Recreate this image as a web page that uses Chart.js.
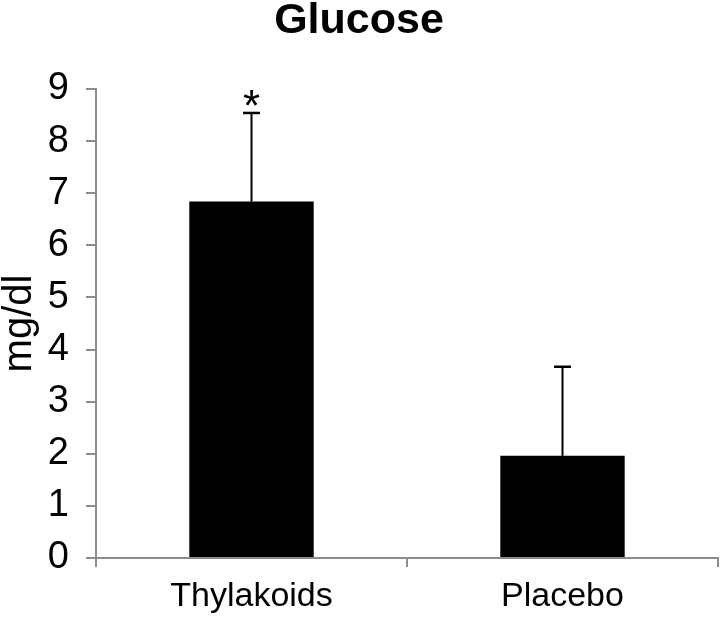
<!DOCTYPE html>
<html>
<head>
<meta charset="utf-8">
<script src="https://cdn.jsdelivr.net/npm/chart.js@4.4.1/dist/chart.umd.min.js"></script>
<style>
  html, body { margin: 0; padding: 0; background: #fff; }
  #wrap { width: 720px; height: 617px; }
</style>
</head>
<body>
<div id="wrap"><canvas id="myChart" width="720" height="617"></canvas></div>
<script>
// data
const categories = ['Thylakoids', 'Placebo'];
const glucose = [6.84, 1.96];
const errUpper = [8.54, 3.67];
const marks = ['*', ''];
const yTicks = [0, 1, 2, 3, 4, 5, 6, 7, 8, 9];

const axisGray = '#8c8c8c';
const FONT = "'Liberation Sans', Arial, sans-serif";

// draws the upper error bars and the significance mark
const errorBars = {
	id: 'errorBars',
	afterDatasetsDraw(chart) {
		const ctx = chart.ctx;
		const y = chart.scales.y;
		const meta = chart.getDatasetMeta(0);
		ctx.save();
		meta.data.forEach((bar, i) => {
			const x = bar.x;
			const yTop = y.getPixelForValue(errUpper[i]);
			const yBase = y.getPixelForValue(glucose[i]);
			ctx.strokeStyle = '#000';
			ctx.lineWidth = 2;
			ctx.beginPath();
			ctx.moveTo(x, yBase);
			ctx.lineTo(x, yTop);
			ctx.stroke();
			ctx.lineWidth = 2.5;
			ctx.beginPath();
			ctx.moveTo(x - 8.5, yTop);
			ctx.lineTo(x + 8.5, yTop);
			ctx.stroke();
			if (marks[i]) {
				ctx.fillStyle = '#000';
				ctx.font = '44px ' + FONT;
				ctx.textAlign = 'center';
				ctx.textBaseline = 'alphabetic';
				ctx.fillText(marks[i], x, yTop + 8);
			}
		});
		ctx.restore();
	}
};

const ctx = document.getElementById('myChart');
const myChart = new Chart(ctx, {
	type: 'bar',
	data: {
		labels: categories,
		datasets: [{
			label: 'Glucose',
			data: glucose,
			backgroundColor: '#000',
			borderWidth: 0,
			categoryPercentage: 1,
			barPercentage: 0.4
		}]
	},
	options: {
		responsive: false,
		animation: false,
		layout: { padding: { top: 0, right: 2, left: 0, bottom: 0 } },
		plugins: {
			legend: { display: false },
			tooltip: { enabled: false },
			title: {
				display: true,
				text: 'Glucose',
				color: '#000',
				font: { family: FONT, size: 43, weight: 'bold', lineHeight: 1.0 },
				padding: { top: 0, bottom: 46 }
			}
		},
		scales: {
			x: {
				offset: true,
				grid: {
					offset: true,
					drawOnChartArea: false,
					drawTicks: true,
					tickLength: 9,
					color: axisGray,
					lineWidth: 2
				},
				border: { color: axisGray, width: 2 },
				ticks: {
					color: '#000',
					font: { family: FONT, size: 34 },
					padding: 9,
					maxRotation: 0
				},
				afterFit(scale) { scale.height = 59; }
			},
			y: {
				min: 0,
				max: 9,
				afterBuildTicks(scale) { scale.ticks = yTicks.map(v => ({ value: v })); },
				grid: {
					drawOnChartArea: false,
					drawTicks: true,
					tickLength: 10,
					color: axisGray,
					lineWidth: 2
				},
				border: { color: axisGray, width: 2 },
				ticks: {
					color: '#000',
					font: { family: FONT, size: 38 },
					padding: 17
				},
				title: {
					display: true,
					text: 'mg/dl',
					color: '#000',
					font: { family: FONT, size: 40, lineHeight: 1.0 },
					padding: { top: 0, bottom: 0 }
				},
				afterFit(scale) { scale.width = 96; }
			}
		}
	},
	plugins: [errorBars]
});
</script>
</body>
</html>
